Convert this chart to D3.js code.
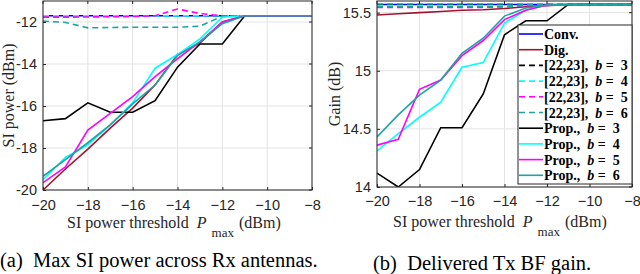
<!DOCTYPE html>
<html><head><meta charset="utf-8">
<script src="https://cdn.jsdelivr.net/npm/d3@7"></script>
<style>body{margin:0;background:#fff}svg{display:block}</style>
</head><body>
<svg id="c" width="640" height="274"></svg>
<script>
const thresholds = [-20,-19,-18,-17,-16,-15,-14,-13,-12,-11,-10,-9,-8];
const xTicks = [-20,-18,-16,-14,-12,-10,-8];
const leftYTicks = [-20,-18,-16,-14,-12];
const rightYTicks = [14,14.5,15,15.5];
const rightYTickLabels = ["14","14.5","15","15.5"];

// (a) Max SI power across Rx antennas (dBm)
const siConv   = [-11.7,-11.7,-11.7,-11.7,-11.7,-11.7,-11.7,-11.7,-11.7,-11.7,-11.7,-11.7,-11.7];
const siDig    = [-20,-19,-18.05,-17.05,-16.1,-15.0,-13.55,-13.0,-12.0,-11.7,-11.7,-11.7,-11.7];
const siRefB3  = [-11.7,-11.7,-11.7,-11.7,-11.7,-11.7,-11.7,-11.7,-11.7,-11.7,-11.7,-11.7,-11.7];
const siRefB4  = [-11.71,-11.71,-11.71,-11.71,-11.71,-11.71,-11.71,-11.71,-11.7,-11.7,-11.7,-11.7,-11.7];
const siRefB5  = [-11.77,-11.77,-11.76,-11.75,-11.74,-11.7,-11.38,-11.6,-11.7,-11.7,-11.7,-11.7,-11.7];
const siRefB6  = [-11.96,-12.02,-12.28,-12.26,-12.25,-12.25,-12.25,-12.2,-11.72,-11.7,-11.7,-11.7,-11.7];
const siPropB3 = [-16.7,-16.6,-15.85,-16.3,-16.3,-15.75,-14.15,-13.05,-13.05,-11.7,-11.7,-11.7,-11.7];
const siPropB4 = [-19.5,-18.45,-17.85,-16.9,-15.85,-14.2,-13.55,-12.8,-11.77,-11.7,-11.7,-11.7,-11.7];
const siPropB5 = [-19.65,-18.9,-17.15,-16.35,-15.55,-14.6,-13.75,-12.95,-12.0,-11.7,-11.7,-11.7,-11.7];
const siPropB6 = [-19.35,-18.55,-17.75,-16.9,-15.9,-15.0,-13.6,-12.95,-12.08,-11.7,-11.7,-11.7,-11.7];

// (b) Delivered Tx BF gain (dB)
const gConv   = [15.57,15.57,15.57,15.57,15.57,15.57,15.57,15.57,15.57,15.57,15.57,15.57,15.57];
const gDig    = [15.48,15.49,15.50,15.51,15.52,15.525,15.535,15.55,15.56,15.57,15.57,15.57,15.57];
const gRefB3  = [15.57,15.57,15.57,15.57,15.57,15.57,15.57,15.57,15.57,15.57,15.57,15.57,15.57];
const gRefB4  = [15.562,15.562,15.562,15.562,15.562,15.562,15.562,15.565,15.57,15.57,15.57,15.57,15.57];
const gRefB5  = [15.545,15.545,15.545,15.545,15.545,15.545,15.55,15.56,15.57,15.57,15.57,15.57,15.57];
const gRefB6  = [15.55,15.55,15.55,15.55,15.55,15.55,15.552,15.562,15.57,15.57,15.57,15.57,15.57];
const gPropB3 = [14.12,14.0,14.15,14.51,14.51,14.8,15.31,15.43,15.43,15.57,15.57,15.57,15.57];
const gPropB4 = [14.31,14.46,14.6,14.73,15.03,15.07,15.41,15.52,15.565,15.57,15.57,15.57,15.57];
const gPropB5 = [14.36,14.41,14.84,14.92,15.13,15.26,15.44,15.52,15.565,15.57,15.57,15.57,15.57];
const gPropB6 = [14.43,14.62,14.79,14.92,15.15,15.28,15.47,15.54,15.565,15.57,15.57,15.57,15.57];

const seriesNames = ["Conv.","Dig.","[22,23], b = 3","[22,23], b = 4","[22,23], b = 5","[22,23], b = 6","Prop., b = 3","Prop., b = 4","Prop., b = 5","Prop., b = 6"];
const colors = ["#0000ff","#a2142f","#000000","#00ffff","#ff00ff","#1ea3a3","#000000","#00ffff","#ff00ff","#1ea3a3"];
const dashed = [false,false,true,true,true,true,false,false,false,false];

const svg = d3.select("#c");
const serif = "'Liberation Serif','Times New Roman',serif";
const sans = "'Liberation Sans',Arial,sans-serif";

function panel(cfg){
  const x = d3.scaleLinear().domain([-20,-8]).range([cfg.x0,cfg.x1]);
  const y = d3.scaleLinear().domain(cfg.yDomain).range([cfg.y1,cfg.y0]);
  const g = svg.append("g");
  // grid
  g.selectAll(".gx").data(xTicks).enter().append("line")
    .attr("x1",d=>x(d)).attr("x2",d=>x(d)).attr("y1",cfg.y0).attr("y2",cfg.y1)
    .attr("stroke","#e3e3e3").attr("stroke-width",1);
  g.selectAll(".gy").data(cfg.yTicks).enter().append("line")
    .attr("x1",cfg.x0).attr("x2",cfg.x1).attr("y1",d=>y(d)).attr("y2",d=>y(d))
    .attr("stroke","#e3e3e3").attr("stroke-width",1);
  // lines
  const line = d3.line().x((d,i)=>x(thresholds[i])).y(d=>y(d));
  const clipId = "clip"+cfg.id;
  svg.append("clipPath").attr("id",clipId).append("rect")
    .attr("x",cfg.x0).attr("y",cfg.y0).attr("width",cfg.x1-cfg.x0).attr("height",cfg.y1-cfg.y0);
  const lg = g.append("g").attr("clip-path",`url(#${clipId})`);
  cfg.series.forEach((s,i)=>{
    lg.append("path").datum(s).attr("d",line).attr("fill","none")
      .attr("stroke",colors[i]).attr("stroke-width",1.6)
      .attr("stroke-dasharray",dashed[i]?"6,4":null);
  });
  // axes box
  g.append("rect").attr("x",cfg.x0).attr("y",cfg.y0).attr("width",cfg.x1-cfg.x0).attr("height",cfg.y1-cfg.y0)
    .attr("fill","none").attr("stroke","#262626").attr("stroke-width",1);
  // axes with inward ticks
  const xa = d3.axisBottom(x).tickValues(xTicks).tickSize(-3).tickPadding(10).tickFormat(d3.format("d"));
  const gx = g.append("g").attr("transform",`translate(0,${cfg.y1})`).call(xa);
  gx.select(".domain").remove();
  gx.selectAll("text").attr("font-family",sans).attr("font-size",14.5).attr("fill","#262626").attr("dy",cfg.xTickDy);
  gx.selectAll("line").attr("stroke","#262626");
  const ya = d3.axisLeft(y).tickValues(cfg.yTicks).tickSize(-3).tickPadding(6)
    .tickFormat((d,i)=>cfg.yTickLabels[i]);
  const gy = g.append("g").attr("transform",`translate(${cfg.x0},0)`).call(ya);
  gy.select(".domain").remove();
  gy.selectAll("text").attr("font-family",sans).attr("font-size",14.5).attr("fill","#262626");
  gy.selectAll("line").attr("stroke","#262626");
  // right ticks
  g.selectAll(".rt").data(cfg.yTicks).enter().append("line")
    .attr("x1",cfg.x1).attr("x2",cfg.x1-3).attr("y1",d=>y(d)).attr("y2",d=>y(d)).attr("stroke","#262626");
  g.selectAll(".tt").data(xTicks).enter().append("line")
    .attr("x1",d=>x(d)).attr("x2",d=>x(d)).attr("y1",cfg.y0).attr("y2",cfg.y0+3).attr("stroke","#262626");
  // y label
  g.append("text").attr("transform",`translate(${cfg.yLabelX},${(cfg.y0+cfg.y1)/2}) rotate(-90)`)
    .attr("text-anchor","middle").attr("font-family",serif).attr("font-size",16).attr("fill","#262626")
    .text(cfg.yLabel);
  // x label
  const xl = g.append("text").attr("x",cfg.xLabelX).attr("y",cfg.xLabelY)
    .attr("font-family",serif).attr("font-size",16).attr("fill","#262626").attr("xml:space","preserve");
  xl.append("tspan").text("SI power threshold  ");
  xl.append("tspan").attr("font-style","italic").text("P");
  xl.append("tspan").attr("font-size",13).attr("dy",9).attr("dx",5).text("max");
  xl.append("tspan").attr("dy",-9).attr("dx",5).text("(dBm)");
  // caption
  g.append("text").attr("x",cfg.capX).attr("y",cfg.capY).attr("font-family",serif).attr("font-size",20.5)
    .attr("fill","#000").attr("xml:space","preserve").text(cfg.caption);
  return {x,y,g};
}

panel({id:"a",x0:43,x1:312,y0:1,y1:190,yDomain:[-20,-11],yTicks:leftYTicks,
  yTickLabels:leftYTicks.map(String),
  series:[siConv,siDig,siRefB3,siRefB4,siRefB5,siRefB6,siPropB3,siPropB4,siPropB5,siPropB6],
  yLabel:"SI power (dBm)",yLabelX:14,xLabelX:67,xLabelY:228,xTickDy:"0.71em",
  capX:0,capY:267,caption:"(a)  Max SI power across Rx antennas."});

panel({id:"b",x0:377,x1:632,y0:1,y1:187,yDomain:[14,15.6],yTicks:rightYTicks,
  yTickLabels:rightYTickLabels,
  series:[gConv,gDig,gRefB3,gRefB4,gRefB5,gRefB6,gPropB3,gPropB4,gPropB5,gPropB6],
  yLabel:"Gain (dB)",yLabelX:340,xLabelX:393,xLabelY:227,xTickDy:"0.62em",
  capX:373,capY:270,caption:"(b)  Delivered Tx BF gain."});

// legend
const lgX = 518, lgY = 25, lgW = 114, lgH = 159, rowH = 15.7;
const leg = svg.append("g");
leg.append("rect").attr("x",lgX).attr("y",lgY).attr("width",lgW).attr("height",lgH)
  .attr("fill","#fff").attr("stroke","#262626").attr("stroke-width",1);
seriesNames.forEach((name,i)=>{
  const cy = lgY + 9 + i*rowH;
  leg.append("line").attr("x1",lgX+1).attr("x2",lgX+25).attr("y1",cy).attr("y2",cy)
    .attr("stroke",colors[i]).attr("stroke-width",1.6).attr("stroke-dasharray",dashed[i]?"6,4":null);
  const t = leg.append("text").attr("x",lgX+26).attr("y",cy+5).attr("font-family",serif)
    .attr("font-size",14).attr("font-weight","bold").attr("fill","#000").attr("xml:space","preserve");
  const m = name.match(/^(.*), b = (\d)$/);
  if(m){
    t.append("tspan").text(m[1]+",  ");
    t.append("tspan").attr("font-style","italic").text("b");
    t.append("tspan").text(" =  "+m[2]);
  } else t.text(name);
});
</script>
</body></html>
